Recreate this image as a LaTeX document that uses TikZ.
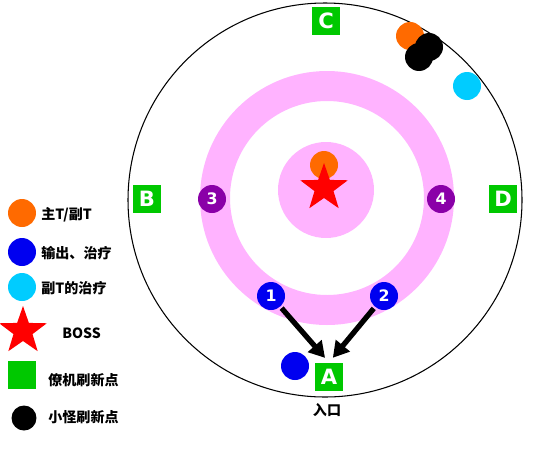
\documentclass[tikz,border=0pt]{standalone}
\usepackage{fontspec}
\setmainfont{DejaVu Sans}
\newfontfamily\cjk{Noto Sans CJK SC}
\usetikzlibrary{shapes.geometric,arrows.meta}

\definecolor{tankorange}{HTML}{FF6A00}
\definecolor{dpsblue}{HTML}{0000F0}
\definecolor{healcyan}{HTML}{00CCFF}
\definecolor{spawngreen}{HTML}{00C800}
\definecolor{markpurple}{HTML}{8A00A8}
\definecolor{ringpink}{HTML}{FFB3FF}

\tikzset{
  dot/.style={circle,inner sep=0pt,minimum size=0.56cm,text=white,font=\bfseries\small},
  spot/.style={fill=spawngreen,inner sep=0pt,minimum size=0.57cm,text=white,font=\bfseries\large},
  bossstar/.style={star,star points=5,star point ratio=2.5,fill=red,inner sep=0pt,minimum size=1cm},
  legend/.style={anchor=west,font=\cjk\bfseries\footnotesize,inner sep=0pt},
  bigarrow/.style={-{Triangle[length=9pt,width=10pt]},line width=3pt,shorten >=0.12cm,shorten <=1pt},
}

\begin{document}
\begin{tikzpicture}[x=0.02cm,y=-0.02cm]
  \useasboundingbox (0,0) rectangle (550,450);

  %% room and the boss area
  \draw[line width=0.6pt] (325,200) circle (197);
  \draw[ringpink,line width=0.6cm] (327,198) circle (112);
  \fill[ringpink] (326,190) circle (48);

  %% boss and main tank
  \node[dot,fill=tankorange] (mt) at (324,165) {};
  \node[bossstar] (boss) at (324,188) {};

  %% marks on the ring
  \node[dot,fill=markpurple] (m3) at (212,199) {3};
  \node[dot,fill=markpurple] (m4) at (441,199) {4};
  \node[dot,fill=dpsblue] (m1) at (271,296) {1};
  \node[dot,fill=dpsblue] (m2) at (384,296) {2};

  %% spawn points
  \node[spot] (a) at (329,377) {A};
  \node[spot] (b) at (147,199) {B};
  \node[spot] (c) at (326,21) {C};
  \node[spot] (d) at (503,199) {D};
  \node[font=\cjk\bfseries\footnotesize] (entry) at (327,410) {入口};

  %% people near the wall
  \node[dot,fill=dpsblue] (dps) at (295,366) {};
  \node[dot,fill=tankorange] (ot) at (410,36) {};
  \node[dot,fill=black] (add1) at (429,47) {};
  \node[dot,fill=black] (add2) at (419,57) {};
  \node[dot,fill=healcyan] (otheal) at (467,86) {};

  %% move to the entry
  \draw[bigarrow] (m1) -- (a.north);
  \draw[bigarrow] (m2) -- (a.north);

  %% legend
  \node[dot,fill=tankorange] (k1) at (22,213) {};
  \node[legend] (t1) at (41,215) {主T/副T};
  \node[dot,fill=dpsblue] (k2) at (22,252) {};
  \node[legend] (t2) at (41,253) {输出、治疗};
  \node[dot,fill=healcyan] (k3) at (22,287) {};
  \node[legend] (t3) at (41,288) {副T的治疗};
  \node[bossstar] (k4) at (23,331) {};
  \node[legend] (t4) at (62,333) {BOSS};
  \node[spot] (k5) at (22,375) {};
  \node[legend] (t5) at (48,380) {僚机刷新点};
  \node[dot,fill=black,minimum size=0.5cm] (k6) at (24,418) {};
  \node[legend] (t6) at (48,417) {小怪刷新点};
\end{tikzpicture}
\end{document}
